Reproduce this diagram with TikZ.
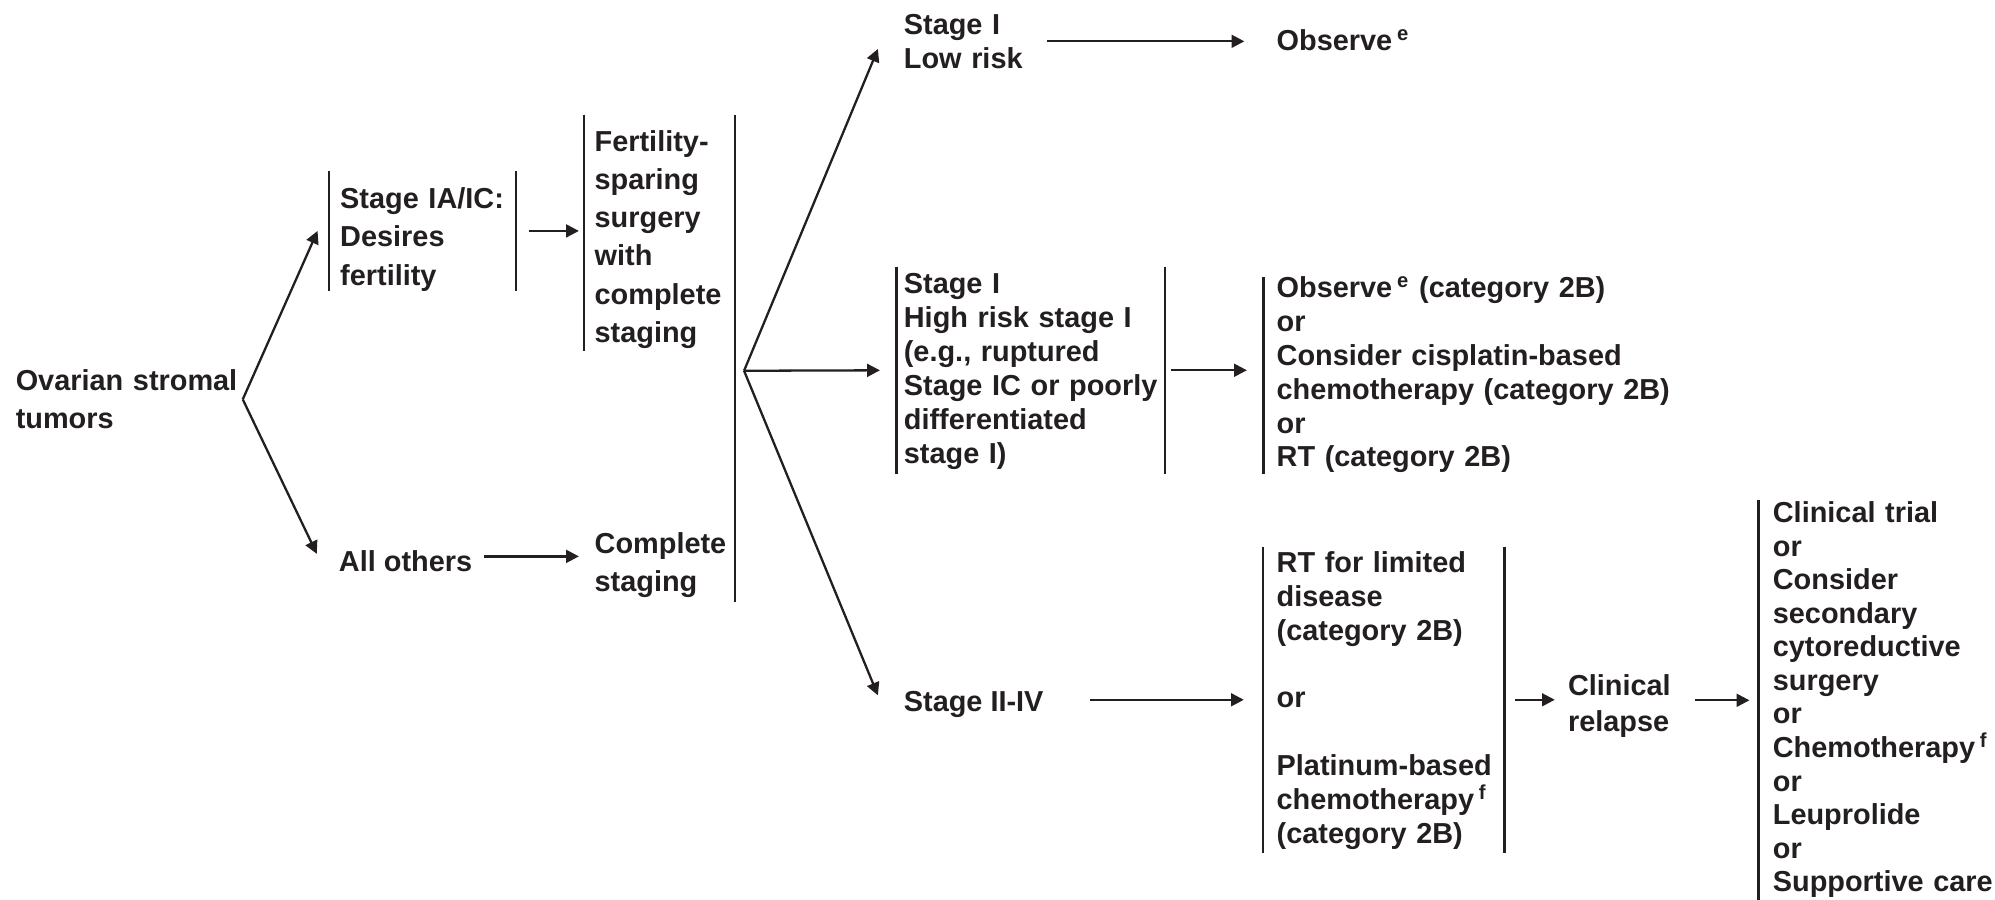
\documentclass[tikz,border=0pt]{standalone}
\usepackage{fontspec}
\setmainfont{Liberation Sans}
\usetikzlibrary{arrows.meta}
\definecolor{ink}{RGB}{35,31,32}
\begin{document}
\begin{tikzpicture}[x=0.5pt,y=-0.5pt,
  txt/.style={anchor=base west, inner sep=0pt, align=left, text=ink,
              font=\bfseries\fontsize{11.35}{15}\selectfont},
  tight/.style={font=\bfseries\fontsize{11.35}{13.3}\selectfont},
  frame/.style={draw=none, inner sep=0pt, rectangle},
  bar/.style={draw=ink, line width=0.9pt},
  arr/.style={draw=ink, line width=0.9pt, -{Triangle[length=5pt,width=5pt]}}]
\useasboundingbox (0,0) rectangle (1568,707);

% ---- first column -------------------------------------------------
\node[txt, text width=89pt] (ovar) at (12,307) {Ovarian stromal\\tumors};
\coordinate (fork1) at (ovar.east);

% fertility-sparing branch
\node[frame, minimum width=73pt, minimum height=46.5pt] (bIA) at (332,181.5) {};
\node[txt, text width=68pt] (sIA) at (267,164) {Stage IA/IC:\\Desires\\fertility};
\node[frame, anchor=north west, minimum width=55pt, minimum height=92.5pt] (bF) at (459,90) {};
\node[txt, text width=52pt] (fert) at (467,119) {Fertility-\\sparing\\surgery\\with\\complete\\staging};

% all other patients
\node[txt] (others) at (266,449) {All others};
\node[txt, text width=55pt] (comp) at (467,435) {Complete\\staging};

% common right bar of the staging column
\node[frame, anchor=north west, minimum width=59pt, minimum height=191pt] (bAll) at (459,90) {};
\coordinate (fork2) at ([xshift=3.5pt,yshift=-5pt]bAll.east);

% ---- stage column ---------------------------------------------------
\node[txt, tight, text width=50pt] (low) at (710,27) {Stage I\\Low risk};
\node[txt] (obs) at (1003,40) {Observe\,\textsuperscript{e}};

\node[frame, minimum width=105pt, minimum height=81pt] (bHR) at (810,291) {};
\node[txt, tight, text width=112pt] (hr) at (710,231)
  {Stage I\\High risk stage I\\(e.g., ruptured\\Stage IC or poorly\\differentiated\\stage I)};
\node[frame, anchor=north west, minimum width=160pt, minimum height=77pt] (bO2) at (993,218) {};
\node[txt, tight, text width=175pt] (o2) at (1003,234)
  {Observe\,\textsuperscript{e} (category 2B)\\or\\Consider cisplatin-based\\chemotherapy (category 2B)\\or\\RT (category 2B)};

\node[txt] (s2) at (710,559) {Stage II-IV};
\node[frame, minimum width=94.5pt, minimum height=120pt] (bRT) at (1087.5,550) {};
\node[txt, tight, text width=98pt] (rt) at (1003,450)
  {RT for limited\\disease\\(category 2B)\\[13.3pt]or\\[13.3pt]Platinum-based\\chemotherapy\,\textsuperscript{f}\\(category 2B)};

\node[txt, font=\bfseries\fontsize{11.35}{14}\selectfont, text width=42pt] (cr) at (1232,547) {Clinical\\relapse};
\node[frame, anchor=north west, minimum width=93pt, minimum height=157pt] (bOpt) at (1382,393) {};
\node[txt, font=\bfseries\fontsize{11.35}{13.2}\selectfont, text width=100pt] (opt) at (1393,410.6)
  {Clinical trial\\or\\Consider\\secondary\\cytoreductive\\surgery\\or\\Chemotherapy\,\textsuperscript{f}\\or\\Leuprolide\\or\\Supportive care};

% ---- bracket bars ---------------------------------------------------
\draw[bar] (bIA.north west) -- (bIA.south west);
\draw[bar] (bIA.north east) -- (bIA.south east);
\draw[bar] (bF.north west) -- (bF.south west);
\draw[bar] (bAll.north east) -- (bAll.south east);
\draw[bar] (bHR.north west) -- (bHR.south west);
\draw[bar] (bHR.north east) -- (bHR.south east);
\draw[bar] (bO2.north west) -- (bO2.south west);
\draw[bar] (bRT.north west) -- (bRT.south west);
\draw[bar] (bRT.north east) -- (bRT.south east);
\draw[bar] (bOpt.north west) -- (bOpt.south west);

% ---- connectors -----------------------------------------------------
\draw[arr] (fork1) -- ([xshift=-4.5pt]bIA.west);
\draw[arr] (fork1) -- ([xshift=-8.5pt,yshift=2.8pt]others.west);
\draw[arr, shorten <=5pt, shorten >=2pt] (bIA.east) -- (bIA.east -| bF.west);
\draw[arr, shorten <=4.5pt, shorten >=6pt] ([yshift=1.8pt]others.east) -- ([yshift=1.8pt]others.east -| comp.west);

\draw[arr] (fork2) -- ([xshift=-10pt,yshift=-3pt]low.west);
\draw[arr, shorten >=6.5pt] (fork2) -- (bHR.west);
\draw[arr] (fork2) -- ([xshift=-10pt,yshift=3.5pt]s2.west);

\draw[arr, shorten <=6pt, shorten >=12.5pt] (low.east) -- (low.east -| obs.west);
\draw[arr, shorten <=2.5pt, shorten >=6.5pt] (bHR.east) -- (bHR.east -| bO2.west);
\draw[arr, shorten <=18pt, shorten >=7.5pt] (bRT.west -| s2.east) -- (bRT.west);
\draw[arr, shorten <=4pt, shorten >=5pt] (bRT.east) -- (bRT.east -| cr.west);
\draw[arr, shorten <=7.5pt, shorten >=3.5pt] (bOpt.west -| cr.east) -- (bOpt.west);
\end{tikzpicture}
\end{document}
